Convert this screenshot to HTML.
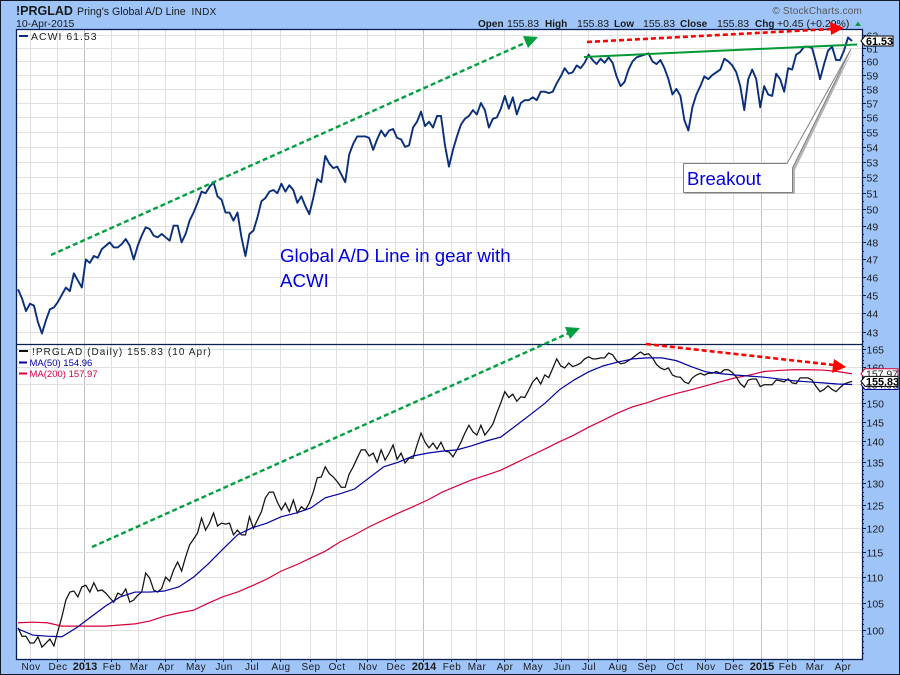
<!DOCTYPE html>
<html lang="en">
<head>
<meta charset="utf-8">
<title>!PRGLAD Pring's Global A/D Line</title>
<style>
html,body{margin:0;padding:0;width:900px;height:675px;overflow:hidden;background:#9fc5f8}
svg{display:block;font-family:"Liberation Sans",sans-serif}
</style>
</head>
<body>
<svg id="chart" xmlns="http://www.w3.org/2000/svg" width="900" height="675" viewBox="0 0 900 675">
  <rect x="0.5" y="0.5" width="899" height="674" fill="#9fc5f8" stroke="#10182c"/>
  <text x="16" y="15" font-size="12.5" font-weight="bold" fill="#1a1a1a">!PRGLAD</text>
  <text x="77" y="15" font-size="10.6" fill="#1a1a1a">Pring's Global A/D Line</text>
  <text x="191.5" y="15" font-size="10" letter-spacing=".3" fill="#1a1a1a">INDX</text>
  <text x="16" y="27" font-size="10.5" fill="#1a1a1a">10-Apr-2015</text>
  <text x="862" y="14" text-anchor="end" font-size="10" letter-spacing=".2" fill="#555">© StockCharts.com</text>
  <g font-size="10.5" fill="#1a1a1a">
    <text x="478" y="27" font-weight="bold" font-size="10">Open</text><text x="507" y="27">155.83</text>
    <text x="545" y="27" font-weight="bold" font-size="10">High</text><text x="577" y="27">155.83</text>
    <text x="614" y="27" font-weight="bold" font-size="10">Low</text><text x="643" y="27">155.83</text>
    <text x="680" y="27" font-weight="bold" font-size="10">Close</text><text x="717" y="27">155.83</text>
    <text x="755" y="27" font-weight="bold" font-size="10">Chg</text><text x="777" y="27">+0.45 (+0.29%)</text>
    <polygon points="855,26 861,26 858,21.5" fill="#0a9a45"/>
  </g>
  <rect x="17" y="29.5" width="845" height="629.5" fill="#fff"/>
  <g id="grid"></g>
  <g id="axes"></g>
  <g id="xaxis"></g>
  <g id="series"></g>
  <rect x="16.5" y="29.5" width="846" height="630" fill="none" stroke="#0a1f54" stroke-width="1.3"/>
  <line x1="17" x2="862" y1="344.5" y2="344.5" stroke="#0a1f54" stroke-width="1.2"/>

  <g>
    <rect x="19" y="35" width="9" height="2" fill="#0a2f7a"/>
    <text x="31" y="40" font-size="10.5" letter-spacing="1" fill="#222">ACWI 61.53</text>
  </g>
  <g>
    <rect x="19" y="350" width="9" height="2" fill="#111"/>
    <text x="32" y="355" font-size="10" letter-spacing="1.05" fill="#222">!PRGLAD (Daily) 155.83 (10 Apr)</text>
    <rect x="19" y="361.5" width="8" height="2" fill="#0000a0"/>
    <text x="29.5" y="366" font-size="9.5" fill="#0000a0">MA(50) 154.96</text>
    <rect x="19" y="372.5" width="8" height="2" fill="#d8003a"/>
    <text x="29.5" y="377" font-size="9.5" fill="#d8003a">MA(200) 157.97</text>
  </g>

  <g>
    <line x1="51" y1="255" x2="527" y2="42" stroke="#00a040" stroke-width="2.4" stroke-dasharray="5 3"/>
    <polygon points="538,37 523,36 528,48" fill="#00a040"/>
    <line x1="92" y1="547" x2="569" y2="333" stroke="#00a040" stroke-width="2.4" stroke-dasharray="5 3"/>
    <polygon points="580,328 565,327 570,339" fill="#00a040"/>
    <line x1="587" y1="42" x2="832" y2="29" stroke="#ff0000" stroke-width="2.6" stroke-dasharray="5 3"/>
    <polygon points="844,28 830,22 831,35" fill="#ff0000"/>
    <line x1="646" y1="344" x2="834" y2="365" stroke="#ff0000" stroke-width="2.6" stroke-dasharray="5 3"/>
    <polygon points="846,367 834,359 832,373" fill="#ff0000"/>
    <line x1="584" y1="57" x2="857" y2="44.5" stroke="#009933" stroke-width="2"/>
    <text x="280" y="262" font-size="18.7" fill="#0000e0">Global A/D Line in gear with</text>
    <text x="280" y="287" font-size="18.7" fill="#0000e0">ACWI</text>
    <path d="M685,165 H787 L853,50 L795,170 V194 H685 Z" fill="#b5b5b5"/>
    <path d="M683.5,163.5 H787 L851,49 L792.5,168 V192.5 H683.5 Z" fill="#fff" stroke="#808080"/>
    <text x="687" y="185" font-size="18.5" fill="#0000e0">Breakout</text>
  </g>
  <g id="tags"></g>
</svg>
<script>
// Samples every 3 trading sessions
const acwiValues = [
45.3,44.8,44.1,44.5,44.4,43.5,42.9,43.6,44.2,44.3,
44.6,45.0,45.4,45.2,46.2,45.8,45.4,47.0,46.8,47.2,
47.1,47.6,47.8,48.0,47.7,47.7,47.9,48.2,47.8,47.0,
47.8,48.4,48.9,48.8,48.4,48.3,48.5,48.3,48.1,49.0,
49.0,48.0,48.5,49.3,49.8,50.4,51.1,51.0,51.4,51.7,
50.8,50.6,49.8,49.8,49.3,49.8,48.3,47.2,48.5,48.7,
49.5,50.5,50.7,51.1,51.2,51.0,51.6,51.1,51.5,51.2,
50.4,50.8,50.2,49.7,50.7,51.9,51.7,53.4,52.9,52.6,
52.7,52.2,51.7,53.5,54.2,54.7,54.7,54.7,54.6,53.8,
54.5,55.1,54.7,55.1,55.2,54.6,54.5,54.0,54.1,55.3,
55.7,56.4,55.4,55.7,55.3,56.1,56.1,54.1,52.7,53.8,
54.7,55.5,55.9,56.1,56.5,56.2,57.0,56.5,55.3,55.9,
56.0,56.6,57.5,56.6,57.4,56.2,57.0,57.2,57.2,57.4,
57.2,57.8,57.8,57.7,57.8,58.4,58.9,59.5,59.1,59.2,
59.7,59.5,59.9,60.5,60.1,59.8,60.2,59.9,60.3,59.9,
58.9,58.2,58.5,59.4,60.0,60.3,60.4,60.5,60.6,60.0,
59.8,60.1,59.5,58.7,57.6,58.0,57.5,55.8,55.1,56.7,
57.6,58.2,58.9,58.7,59.0,59.2,59.4,60.2,60.0,59.7,
59.2,58.2,56.5,58.7,59.4,58.7,56.7,58.2,57.6,57.5,
59.1,58.7,57.8,59.5,59.4,60.5,60.7,61.1,61.1,61.0,
59.9,58.7,59.8,60.8,61.1,60.1,60.1,60.8,61.8,61.53];
const adLineValues = [
100.4,98.9,98.9,97.7,97.7,98.8,97.0,97.7,98.4,97.2,
99.8,102.4,105.5,107.0,107.2,106.1,108.0,108.3,107.0,108.8,
107.2,107.4,106.8,105.9,105.1,106.8,106.4,107.6,105.1,105.5,
106.4,107.0,110.7,109.7,107.4,107.0,107.7,109.9,109.1,111.3,
112.9,111.1,113.9,116.4,117.6,118.9,122.1,119.5,121.0,123.2,
120.4,121.0,120.8,121.0,118.5,119.5,118.5,118.5,122.4,119.9,
121.7,123.5,126.6,127.9,127.9,125.6,123.9,125.4,123.5,126.1,
123.2,124.6,123.9,125.4,127.9,131.2,131.4,133.8,132.2,131.4,
130.3,129.0,129.0,132.1,133.8,135.9,137.9,137.9,136.4,137.1,
134.9,137.9,135.4,137.1,139.1,135.6,137.1,134.7,135.9,135.9,
139.1,142.1,139.8,138.4,139.6,138.1,139.8,137.6,137.4,136.2,
137.9,139.8,142.1,144.1,142.4,141.6,144.1,141.6,142.9,144.4,
147.3,150.0,153.0,151.4,152.3,150.4,151.6,151.4,153.5,155.7,
156.9,155.1,157.6,156.9,159.5,162.2,160.2,159.6,161.0,160.0,
160.4,161.0,162.2,162.8,162.2,162.2,162.5,162.5,163.9,163.4,
161.7,160.8,161.0,161.7,162.5,163.4,164.2,163.4,163.7,162.5,
160.6,159.6,159.1,159.6,157.6,157.1,157.0,155.7,155.2,156.8,
157.6,158.1,157.6,158.1,158.1,158.6,158.1,159.1,159.1,158.3,
157.1,155.2,154.2,156.2,156.5,156.5,154.4,154.9,154.9,154.9,
156.2,156.0,155.7,156.5,155.4,155.2,156.8,156.8,156.8,156.2,
154.4,153.0,153.6,154.6,153.6,153.0,154.1,155.1,155.5,155.83];
// Samples every 11 trading sessions
const ma50Values = [
100.2,99.1,98.9,98.8,100.4,102.4,104.4,106.1,107.0,107.0,
107.2,108.0,109.9,112.5,115.5,118.5,120.0,121.0,122.4,123.2,
124.3,126.6,127.5,128.6,131.2,133.8,134.9,136.4,137.1,137.6,
137.9,138.9,140.1,141.1,143.9,146.8,149.8,153.5,156.2,158.5,
160.2,161.3,162.2,162.5,162.5,161.7,160.0,158.5,158.0,157.6,
157.3,157.0,156.5,156.0,155.7,155.4,155.1,154.96];
const ma200Values = [
101.3,101.4,101.3,100.7,100.7,100.7,100.7,100.9,101.1,101.6,
102.5,103.1,103.6,104.9,106.1,107.0,108.2,109.5,111.1,112.3,
113.7,115.1,117.0,118.5,120.2,121.7,123.2,124.6,126.1,127.9,
129.3,130.7,131.8,133.0,134.7,136.4,138.1,139.9,141.6,143.6,
145.4,147.3,148.9,150.0,151.4,152.5,153.5,154.6,155.7,156.8,
157.6,158.6,158.9,159.1,159.1,159.0,158.6,157.97];
const acwiTickLabels = [43,44,45,46,47,48,49,50,51,52,53,54,55,56,57,58,59,60,61,62];
const adTickLabels = [100,105,110,115,120,125,130,135,140,145,150,155,160,165];
const timeLabels = ['Nov','Dec','2013','Feb','Mar','Apr','May','Jun','Jul','Aug','Sep','Oct','Nov','Dec','2014','Feb','Mar','Apr','May','Jun','Jul','Aug','Sep','Oct','Nov','Dec','2015','Feb','Mar','Apr'];
const timeLabelSessions = [10,30,50,71,91,111,134,155,176,198,220,240,263,284,305,326,345,366,387,409,429,451,473,494,517,538,559,579,599,620];
const totalSessions = 627;

const NS = 'http://www.w3.org/2000/svg';
const xScale = s => 18 + s * 834 / totalSessions;
const yTop = v => 48 + 811 * Math.log(61 / v);
const yBottom = v => 630 - 560.5 * Math.log(v / 100);
const gridG = document.getElementById('grid');
const axesG = document.getElementById('axes');
const xaxisG = document.getElementById('xaxis');
const seriesG = document.getElementById('series');
const tagsG = document.getElementById('tags');
const make = (tag, parent, props) => {
  const el = document.createElementNS(NS, tag);
  for (const k in props) el.setAttribute(k, props[k]);
  parent.appendChild(el);
  return el;
};

timeLabels.forEach((label, i) => {
  const x = Math.round(xScale(timeLabelSessions[i])) - 0.5;
  const isYear = /^\d+$/.test(label);
  const g = make('line', gridG, {x1: x, x2: x, y1: 30, y2: 659, stroke: isYear ? '#c2c2c2' : '#e0e0e0', 'stroke-width': 1});
  
  
  const tick = make('line', xaxisG, {x1: x, x2: x, y1: 659, y2: 662, stroke: '#0a1f54', 'stroke-width': 1});
  
  
  const t = make('text', xaxisG, {x: x + 0.5, y: 670, 'text-anchor': 'middle', 'font-size': isYear ? 11 : 10, 'font-weight': isYear ? 'bold' : 'normal', 'letter-spacing': isYear ? 0 : 0.4, fill: '#1a1a1a'});
  t.textContent = label;
  
  
});

function drawPriceAxis(ticks, scale, yMin, yMax, minorStep, minorMin, minorMax) {
  ticks.forEach(v => {
    const y = Math.round(scale(v)) + 0.5;
    const g = make('line', gridG, {x1: 17, x2: 862, y1: y, y2: y, stroke: '#e0e0e0', 'stroke-width': 1});
    
    
    const tick = make('line', axesG, {x1: 862, x2: 866, y1: y, y2: y, stroke: '#0a1f54', 'stroke-width': 1});
    
    
    const t = make('text', axesG, {x: 866.5, y: y + 4, 'font-size': 10.5, fill: '#1a1a1a'});
    t.textContent = v;
    
    
  });
  for (let v = minorMin; v <= minorMax; v += minorStep) {
    const y = Math.round(scale(v)) + 0.5;
    if (y < yMin || y > yMax) continue;
    const m = make('line', axesG, {x1: 862, x2: 864, y1: y, y2: y, stroke: '#0a1f54', 'stroke-width': 1});
    
    
  }
}
drawPriceAxis(acwiTickLabels, yTop, 30, 344, 0.5, 42.5, 62.5);
drawPriceAxis(adTickLabels, yBottom, 345, 659, 1, 95, 167);

function linePath(values, step, scale) {
  return values.map((v, i) => (i ? 'L' : 'M') + xScale(i * step).toFixed(2) + ',' + scale(v).toFixed(2)).join('');
}
const acwiLine = make('path', seriesG, {d: linePath(acwiValues, 3, yTop), fill: 'none', stroke: '#0a2f7a', 'stroke-width': 1.9, 'stroke-linejoin': 'round'});


const ma200Line = make('path', seriesG, {d: linePath(ma200Values, 11, yBottom), fill: 'none', stroke: '#d8003a', 'stroke-width': 1.2});


const adLine = make('path', seriesG, {d: linePath(adLineValues, 3, yBottom), fill: 'none', stroke: '#111111', 'stroke-width': 1.25});


const ma50Line = make('path', seriesG, {d: linePath(ma50Values, 11, yBottom), fill: 'none', stroke: '#0000a0', 'stroke-width': 1.2});



function drawTag(value, scale, right, color, bold, size) {
  const y = scale(value);
  const p = make('polygon', tagsG, {points: `861,${y} 865,${y - 5} ${right},${y - 5} ${right},${y + 5} 865,${y + 5}`, fill: '#fff', stroke: color, 'stroke-width': 1});
  
  
  const t = make('text', tagsG, {x: 866, y: y + 4, 'font-size': size, 'font-weight': bold ? 'bold' : 'normal', fill: bold ? '#000' : '#222'});
  t.textContent = value.toFixed(2);
  
  
}
drawTag(ma50Values[ma50Values.length - 1], yBottom, 898, '#0000a0', false, 10.5);
drawTag(ma200Values[ma200Values.length - 1], yBottom, 898, '#d8003a', false, 10.5);
drawTag(adLineValues[adLineValues.length - 1], yBottom, 898, '#000', true, 10.8);
drawTag(acwiValues[acwiValues.length - 1], yTop, 893, '#000', true, 10.8);
</script>
</body>
</html>
